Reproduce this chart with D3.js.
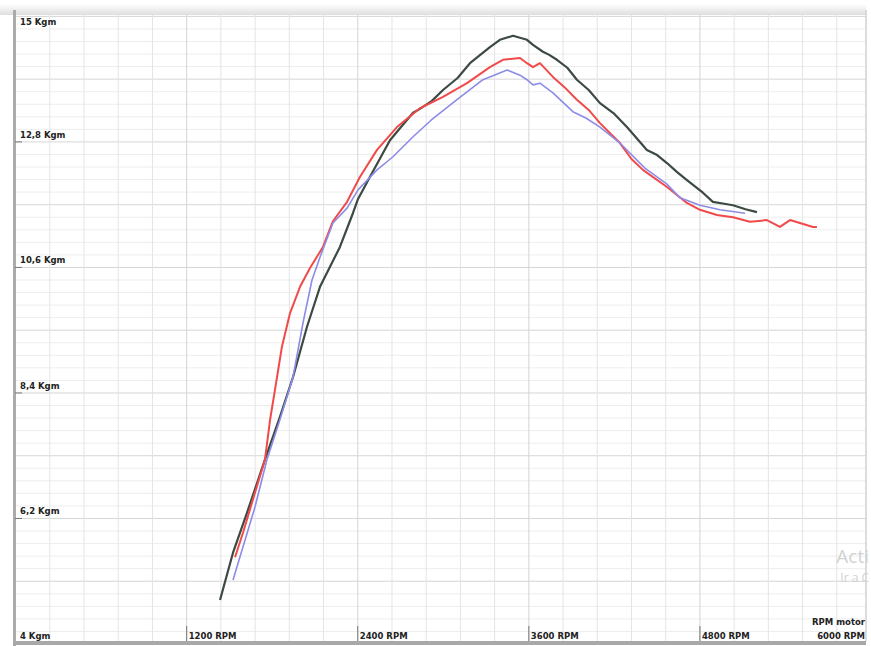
<!DOCTYPE html>
<html>
<head>
<meta charset="utf-8">
<script src="https://cdn.jsdelivr.net/npm/d3@7"></script>
<style>
    body { margin: 0; background: #fff; }
    svg { display: block; }
    .lbl { font-family: "DejaVu Sans", sans-serif; font-size: 8.5px; font-weight: bold; fill: #222; }
    .wm { font-family: "Open Sans", "Noto Sans", sans-serif; fill: #d2d2d2; }
</style>
</head>
<body>
<svg id="dyno" width="871" height="646"></svg>
<script>
//Datos (RPM / Kgm)
const rpmNegra = [1434, 1525, 1623, 1749, 1854, 1946, 2044, 2135, 2275, 2366, 2402, 2486, 2626, 2696, 2788, 2836, 2920, 2998, 3100, 3187, 3327, 3397, 3489, 3587, 3629, 3699, 3740, 3797, 3870, 3937, 4020, 4099, 4200, 4288, 4428, 4500, 4569, 4640, 4709, 4821, 4891, 4960, 5032, 5120, 5200];
const kgmNegra = [4.77, 5.60, 6.30, 7.23, 7.98, 8.68, 9.56, 10.26, 10.96, 11.55, 11.80, 12.19, 12.83, 13.04, 13.31, 13.38, 13.52, 13.71, 13.92, 14.18, 14.46, 14.59, 14.66, 14.59, 14.50, 14.38, 14.33, 14.24, 14.10, 13.89, 13.71, 13.48, 13.29, 13.06, 12.66, 12.57, 12.43, 12.27, 12.13, 11.91, 11.75, 11.72, 11.69, 11.62, 11.57];

const rpmRoja = [1539, 1595, 1679, 1749, 1785, 1819, 1868, 1925, 1995, 2065, 2156, 2226, 2325, 2416, 2535, 2675, 2836, 2998, 3166, 3327, 3418, 3538, 3587, 3629, 3678, 3769, 3850, 3937, 4020, 4099, 4239, 4320, 4400, 4569, 4709, 4800, 4919, 5032, 5151, 5270, 5361, 5432, 5501, 5593, 5621];
const kgmRoja = [5.52, 5.95, 6.65, 7.23, 7.93, 8.45, 9.21, 9.80, 10.26, 10.59, 10.96, 11.41, 11.75, 12.19, 12.66, 13.06, 13.39, 13.59, 13.83, 14.11, 14.24, 14.27, 14.18, 14.11, 14.18, 13.94, 13.76, 13.54, 13.36, 13.13, 12.78, 12.50, 12.31, 12.01, 11.73, 11.61, 11.52, 11.48, 11.40, 11.43, 11.31, 11.43, 11.38, 11.31, 11.31];

const rpmAzul = [1525, 1679, 1763, 1854, 1946, 2016, 2079, 2135, 2226, 2325, 2402, 2535, 2647, 2788, 2914, 3096, 3278, 3448, 3538, 3587, 3629, 3678, 3769, 3909, 4000, 4099, 4239, 4414, 4569, 4660, 4800, 4941, 5116];
const kgmAzul = [5.12, 6.40, 7.23, 7.93, 8.68, 9.63, 10.38, 10.78, 11.38, 11.64, 11.96, 12.31, 12.54, 12.89, 13.18, 13.54, 13.89, 14.06, 13.97, 13.89, 13.80, 13.83, 13.66, 13.33, 13.22, 13.06, 12.78, 12.34, 12.06, 11.82, 11.69, 11.61, 11.55];

//Ejes
const yTicks = [4, 6.2, 8.4, 10.6, 12.8, 15];
const yLabels = ['4 Kgm', '6,2 Kgm', '8,4 Kgm', '10,6 Kgm', '12,8 Kgm', '15 Kgm'];
const xTicks = [1200, 2400, 3600, 4800, 6000];
const xLabels = ['1200 RPM', '2400 RPM', '3600 RPM', '4800 RPM', '6000 RPM'];

const svg = d3.select('#dyno');
const right = 866;

const x = d3.scaleLinear().domain([0, 6000]).range([15.6, 871]);
const y = d3.scaleLinear().domain([4, 15]).range([644, 16.4]);

// fondo de la ventana arriba
const grad = svg.append('defs').append('linearGradient')
    .attr('id', 'topBar').attr('x1', 0).attr('x2', 0).attr('y1', 0).attr('y2', 1);
grad.append('stop').attr('offset', '0%').attr('stop-color', '#ffffff');
grad.append('stop').attr('offset', '100%').attr('stop-color', '#dedede');
svg.append('rect').attr('x', 0).attr('y', 4).attr('width', right).attr('height', 11).attr('fill', 'url(#topBar)');

//Grilla horizontal (cada 0,22 Kgm)
const hLines = d3.range(0, 51).map(i => 4 + i * 0.22);
svg.append('g').selectAll('line')
    .data(hLines)
    .join('line')
    .attr('x1', 16).attr('x2', right)
    .attr('y1', d => y(d)).attr('y2', d => y(d))
    .attr('stroke', (d, i) => i % 5 === 0 ? '#d6d6d6' : '#ededed')
    .attr('stroke-width', 1);

//Grilla vertical (cada 240 RPM)
const vLines = d3.range(1, 25).map(i => i * 240);
svg.append('g').selectAll('line')
    .data(vLines)
    .join('line')
    .attr('x1', d => x(d)).attr('x2', d => x(d))
    .attr('y1', 15).attr('y2', 641)
    .attr('stroke', (d, i) => (i + 1) % 5 === 0 ? '#d4d4d4' : '#e4e4e4')
    .attr('stroke-width', 1);

// borde derecho
svg.append('line').attr('x1', right).attr('x2', right).attr('y1', 10).attr('y2', 641)
    .attr('stroke', '#d0d0d0').attr('stroke-width', 1.5);

// ejes gruesos
svg.append('line').attr('x1', 14.5).attr('x2', 14.5).attr('y1', 10).attr('y2', 646)
    .attr('stroke', '#ababab').attr('stroke-width', 3);
svg.append('line').attr('x1', 13).attr('x2', right).attr('y1', 643).attr('y2', 643)
    .attr('stroke', '#a8a8a8').attr('stroke-width', 4);

//Ticks
svg.append('g').selectAll('line')
    .data(yTicks.slice(1, 5))
    .join('line')
    .attr('x1', 15).attr('x2', 22)
    .attr('y1', d => y(d)).attr('y2', d => y(d))
    .attr('stroke', '#777').attr('stroke-width', 1);
svg.append('g').selectAll('line')
    .data(xTicks.slice(0, 4))
    .join('line')
    .attr('x1', d => x(d)).attr('x2', d => x(d))
    .attr('y1', 626).attr('y2', 641)
    .attr('stroke', '#777').attr('stroke-width', 1);

//Etiquetas
svg.append('g').selectAll('text')
    .data(yTicks)
    .join('text')
    .attr('class', 'lbl')
    .attr('x', 20)
    .attr('y', d => Math.min(Math.max(y(d) - 4, 25), 639))
    .text((d, i) => yLabels[i]);

svg.append('g').selectAll('text')
    .data(xTicks)
    .join('text')
    .attr('class', 'lbl')
    .attr('x', d => d === 6000 ? right - 1 : x(d) + 2)
    .attr('y', 639)
    .attr('text-anchor', d => d === 6000 ? 'end' : 'start')
    .text((d, i) => xLabels[i]);

svg.append('text').attr('class', 'lbl')
    .attr('x', right - 1).attr('y', 625)
    .attr('text-anchor', 'end')
    .text('RPM motor');

//Curvas
const series = [
    {rpm: rpmNegra, kgm: kgmNegra, color: '#3d4a42', w: 2.2},
    {rpm: rpmRoja, kgm: kgmRoja, color: '#f04a4a', w: 2},
    {rpm: rpmAzul, kgm: kgmAzul, color: '#8c8ce8', w: 1.6}
];
const line = d3.line().x(d => x(d[0])).y(d => y(d[1]));

svg.append('g').selectAll('path')
    .data(series)
    .join('path')
    .attr('d', s => line(s.rpm.map((r, i) => [r, s.kgm[i]])))
    .attr('fill', 'none')
    .attr('stroke', s => s.color)
    .attr('stroke-width', s => s.w)
    .attr('stroke-linejoin', 'round');

// marca de agua de windows (solo lo que se ve)
svg.append('text').attr('class', 'wm').attr('x', 869).attr('y', 563)
    .attr('text-anchor', 'end').attr('font-size', 19).text('Acti');
svg.append('text').attr('class', 'wm').attr('x', 869).attr('y', 582)
    .attr('text-anchor', 'end').attr('font-size', 12).text('Ir a C');
</script>
</body>
</html>
